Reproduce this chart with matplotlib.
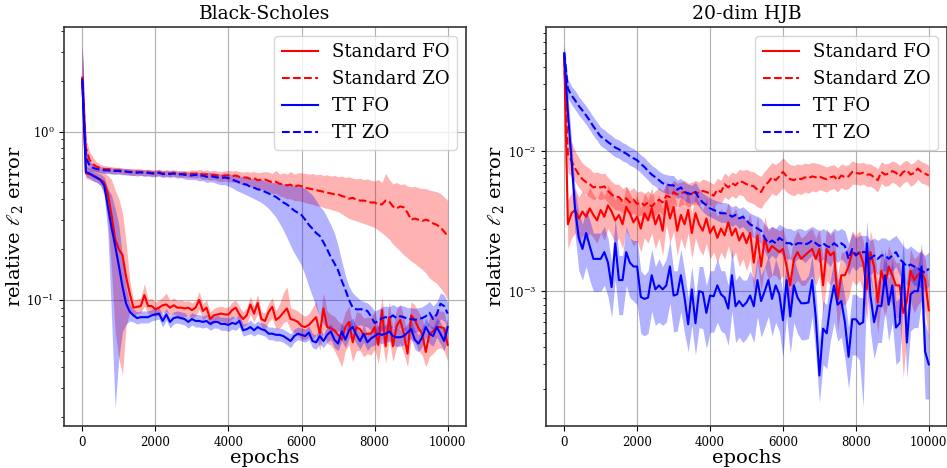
import numpy as np
import matplotlib
matplotlib.use("Agg")
import matplotlib.pyplot as plt

plt.rcParams['font.family'] = ['DejaVu Serif']
plt.rcParams['mathtext.fontset'] = 'dejavuserif'

epochs = np.arange(0, 10001, 100)

# ---------------- Black-Scholes ----------------
bs_std_fo = [2.1, 0.565, 0.56, 0.55, 0.535, 0.52, 0.50, 0.43, 0.32, 0.23,
             0.20, 0.185, 0.137, 0.109, 0.090, 0.091, 0.092, 0.107, 0.092, 0.092,
             0.088, 0.090, 0.093, 0.094, 0.090, 0.093, 0.090, 0.090, 0.089, 0.090,
             0.087, 0.090, 0.100, 0.086, 0.090, 0.077, 0.081, 0.082, 0.083, 0.082,
             0.082, 0.087, 0.090, 0.082, 0.077, 0.081, 0.094, 0.083, 0.096, 0.077,
             0.075, 0.085, 0.091, 0.076, 0.079, 0.084, 0.089, 0.077, 0.076, 0.074,
             0.070, 0.069, 0.071, 0.075, 0.079, 0.063, 0.089, 0.069, 0.068, 0.066,
             0.062, 0.058, 0.069, 0.074, 0.056, 0.069, 0.067, 0.062, 0.063, 0.063,
             0.069, 0.054, 0.087, 0.053, 0.079, 0.053, 0.070, 0.076, 0.063, 0.048,
             0.081, 0.076, 0.068, 0.063, 0.049, 0.063, 0.065, 0.069, 0.069, 0.068, 0.054]
bs_std_fo_lo = [1.4, 0.53, 0.52, 0.51, 0.50, 0.48, 0.44, 0.30, 0.15, 0.065,
                0.045, 0.036, 0.07, 0.085, 0.080, 0.083, 0.084, 0.092, 0.083, 0.083,
                0.080, 0.081, 0.084, 0.085, 0.081, 0.083, 0.080, 0.077, 0.080, 0.081,
                0.078, 0.080, 0.088, 0.076, 0.080, 0.070, 0.073, 0.074, 0.075, 0.073,
                0.073, 0.077, 0.080, 0.073, 0.069, 0.072, 0.082, 0.074, 0.084, 0.069,
                0.067, 0.074, 0.078, 0.067, 0.068, 0.073, 0.075, 0.066, 0.064, 0.062,
                0.058, 0.058, 0.060, 0.058, 0.062, 0.050, 0.066, 0.055, 0.054, 0.050,
                0.045, 0.040, 0.050, 0.054, 0.043, 0.050, 0.050, 0.046, 0.048, 0.047,
                0.051, 0.042, 0.060, 0.042, 0.058, 0.043, 0.052, 0.055, 0.048, 0.040,
                0.058, 0.056, 0.050, 0.047, 0.040, 0.046, 0.048, 0.051, 0.052, 0.050, 0.043]
bs_std_fo_hi = [3.27, 0.63, 0.61, 0.60, 0.59, 0.58, 0.57, 0.55, 0.52, 0.45,
                0.40, 0.33, 0.22, 0.13, 0.10, 0.101, 0.103, 0.125, 0.101, 0.102,
                0.097, 0.100, 0.104, 0.110, 0.099, 0.103, 0.099, 0.100, 0.098, 0.099,
                0.096, 0.099, 0.112, 0.095, 0.100, 0.085, 0.089, 0.091, 0.092, 0.090,
                0.091, 0.097, 0.100, 0.091, 0.085, 0.090, 0.105, 0.092, 0.108, 0.085,
                0.084, 0.096, 0.103, 0.086, 0.095, 0.110, 0.120, 0.090, 0.088, 0.086,
                0.082, 0.080, 0.083, 0.090, 0.098, 0.077, 0.110, 0.086, 0.082, 0.080,
                0.075, 0.072, 0.085, 0.092, 0.070, 0.085, 0.084, 0.078, 0.079, 0.079,
                0.086, 0.069, 0.105, 0.068, 0.098, 0.068, 0.088, 0.094, 0.079, 0.062,
                0.098, 0.093, 0.085, 0.078, 0.063, 0.079, 0.081, 0.086, 0.086, 0.085, 0.068]

bs_std_zo = [2.1, 0.80, 0.68, 0.64, 0.62, 0.61, 0.60, 0.60, 0.595, 0.59,
             0.59, 0.585, 0.58, 0.58, 0.575, 0.58, 0.575, 0.57, 0.575, 0.57,
             0.57, 0.575, 0.565, 0.57, 0.565, 0.57, 0.565, 0.56, 0.565, 0.56,
             0.565, 0.56, 0.57, 0.555, 0.56, 0.55, 0.555, 0.55, 0.545, 0.55,
             0.55, 0.545, 0.55, 0.54, 0.535, 0.535, 0.525, 0.53, 0.515, 0.52,
             0.52, 0.51, 0.50, 0.505, 0.49, 0.49, 0.48, 0.485, 0.47, 0.48,
             0.475, 0.465, 0.46, 0.455, 0.45, 0.445, 0.44, 0.435, 0.43, 0.425,
             0.425, 0.415, 0.41, 0.40, 0.405, 0.395, 0.39, 0.39, 0.385, 0.38,
             0.38, 0.37, 0.37, 0.39, 0.385, 0.36, 0.35, 0.36, 0.355, 0.33,
             0.30, 0.305, 0.30, 0.295, 0.30, 0.295, 0.285, 0.28, 0.27, 0.255, 0.24]
bs_std_zo_lo = [1.4, 0.68, 0.61, 0.59, 0.58, 0.575, 0.57, 0.57, 0.565, 0.56,
                0.565, 0.56, 0.555, 0.555, 0.55, 0.555, 0.55, 0.545, 0.55, 0.545,
                0.545, 0.55, 0.54, 0.545, 0.54, 0.545, 0.54, 0.535, 0.54, 0.535,
                0.535, 0.53, 0.535, 0.52, 0.525, 0.515, 0.52, 0.51, 0.505, 0.51,
                0.505, 0.50, 0.50, 0.49, 0.485, 0.48, 0.47, 0.47, 0.455, 0.455,
                0.45, 0.44, 0.43, 0.43, 0.415, 0.41, 0.40, 0.40, 0.39, 0.39,
                0.385, 0.38, 0.375, 0.37, 0.365, 0.36, 0.355, 0.35, 0.345, 0.34,
                0.335, 0.325, 0.315, 0.305, 0.30, 0.295, 0.29, 0.285, 0.28, 0.275,
                0.27, 0.26, 0.25, 0.24, 0.23, 0.215, 0.205, 0.195, 0.185, 0.178,
                0.17, 0.165, 0.158, 0.152, 0.145, 0.135, 0.13, 0.125, 0.118, 0.11, 0.10]
bs_std_zo_hi = [3.27, 0.92, 0.76, 0.70, 0.66, 0.64, 0.63, 0.625, 0.62, 0.615,
                0.615, 0.61, 0.605, 0.605, 0.60, 0.605, 0.60, 0.595, 0.60, 0.595,
                0.595, 0.60, 0.59, 0.595, 0.59, 0.595, 0.59, 0.585, 0.59, 0.585,
                0.595, 0.59, 0.60, 0.59, 0.595, 0.585, 0.59, 0.585, 0.58, 0.585,
                0.59, 0.585, 0.59, 0.58, 0.575, 0.58, 0.575, 0.58, 0.57, 0.575,
                0.58, 0.575, 0.565, 0.59, 0.56, 0.57, 0.56, 0.58, 0.56, 0.57,
                0.57, 0.565, 0.56, 0.565, 0.555, 0.56, 0.55, 0.555, 0.545, 0.55,
                0.54, 0.545, 0.535, 0.54, 0.53, 0.525, 0.53, 0.52, 0.525, 0.515,
                0.51, 0.52, 0.50, 0.565, 0.52, 0.49, 0.50, 0.485, 0.49, 0.475,
                0.47, 0.475, 0.465, 0.46, 0.46, 0.45, 0.445, 0.44, 0.43, 0.41, 0.39]

bs_tt_fo = [2.04, 0.577, 0.565, 0.547, 0.532, 0.516, 0.48, 0.36, 0.27, 0.21,
            0.16, 0.12, 0.095, 0.085, 0.081, 0.078, 0.079, 0.079, 0.079, 0.081,
            0.082, 0.083, 0.075, 0.082, 0.074, 0.078, 0.079, 0.078, 0.077, 0.074,
            0.077, 0.075, 0.075, 0.074, 0.075, 0.072, 0.074, 0.074, 0.072, 0.072,
            0.071, 0.073, 0.072, 0.075, 0.066, 0.067, 0.069, 0.066, 0.069, 0.067,
            0.066, 0.063, 0.063, 0.062, 0.062, 0.061, 0.059, 0.057, 0.061, 0.063,
            0.062, 0.061, 0.064, 0.057, 0.056, 0.061, 0.057, 0.062, 0.065, 0.058,
            0.055, 0.065, 0.058, 0.066, 0.069, 0.062, 0.057, 0.063, 0.056, 0.059,
            0.061, 0.063, 0.062, 0.063, 0.065, 0.061, 0.060, 0.060, 0.061, 0.064,
            0.067, 0.058, 0.055, 0.060, 0.069, 0.063, 0.061, 0.069, 0.063, 0.057, 0.069]
bs_tt_fo_lo = [1.3, 0.54, 0.53, 0.51, 0.50, 0.48, 0.42, 0.25, 0.08, 0.0228,
               0.045, 0.065, 0.072, 0.075, 0.074, 0.072, 0.073, 0.073, 0.073, 0.075,
               0.076, 0.077, 0.069, 0.076, 0.068, 0.072, 0.073, 0.072, 0.071, 0.068,
               0.071, 0.069, 0.069, 0.068, 0.069, 0.066, 0.068, 0.068, 0.066, 0.066,
               0.065, 0.067, 0.066, 0.069, 0.061, 0.062, 0.063, 0.061, 0.063, 0.062,
               0.061, 0.058, 0.058, 0.057, 0.057, 0.056, 0.054, 0.052, 0.056, 0.058,
               0.057, 0.056, 0.058, 0.052, 0.051, 0.055, 0.052, 0.056, 0.058, 0.052,
               0.050, 0.057, 0.052, 0.059, 0.061, 0.055, 0.051, 0.056, 0.050, 0.053,
               0.054, 0.056, 0.055, 0.056, 0.057, 0.054, 0.053, 0.053, 0.054, 0.057,
               0.059, 0.051, 0.049, 0.053, 0.060, 0.055, 0.053, 0.060, 0.055, 0.050, 0.060]
bs_tt_fo_hi = [3.27, 0.62, 0.60, 0.58, 0.57, 0.56, 0.54, 0.46, 0.42, 0.35,
               0.28, 0.18, 0.12, 0.095, 0.088, 0.085, 0.086, 0.086, 0.086, 0.088,
               0.089, 0.090, 0.082, 0.089, 0.080, 0.085, 0.086, 0.085, 0.084, 0.080,
               0.084, 0.082, 0.082, 0.080, 0.082, 0.079, 0.080, 0.081, 0.079, 0.079,
               0.078, 0.080, 0.079, 0.082, 0.072, 0.073, 0.076, 0.072, 0.075, 0.073,
               0.072, 0.069, 0.069, 0.068, 0.068, 0.067, 0.065, 0.063, 0.067, 0.069,
               0.068, 0.067, 0.070, 0.063, 0.062, 0.068, 0.063, 0.069, 0.072, 0.065,
               0.061, 0.073, 0.065, 0.074, 0.078, 0.069, 0.064, 0.071, 0.063, 0.066,
               0.068, 0.071, 0.070, 0.071, 0.073, 0.068, 0.067, 0.067, 0.068, 0.072,
               0.076, 0.066, 0.062, 0.068, 0.078, 0.071, 0.069, 0.078, 0.074, 0.066, 0.078]

bs_tt_zo = [2.0, 0.70, 0.63, 0.61, 0.60, 0.595, 0.59, 0.59, 0.585, 0.585,
            0.585, 0.58, 0.58, 0.575, 0.575, 0.57, 0.575, 0.57, 0.57, 0.565,
            0.565, 0.57, 0.56, 0.565, 0.56, 0.565, 0.555, 0.56, 0.555, 0.55,
            0.55, 0.555, 0.545, 0.55, 0.54, 0.545, 0.54, 0.535, 0.53, 0.535,
            0.53, 0.52, 0.51, 0.50, 0.49, 0.485, 0.47, 0.465, 0.455, 0.45,
            0.44, 0.43, 0.42, 0.41, 0.395, 0.38, 0.37, 0.355, 0.34, 0.33,
            0.32, 0.30, 0.28, 0.265, 0.25, 0.24, 0.22, 0.20, 0.18, 0.165,
            0.15, 0.13, 0.115, 0.10, 0.09, 0.088, 0.088, 0.088, 0.086, 0.08,
            0.073, 0.075, 0.078, 0.079, 0.078, 0.081, 0.078, 0.080, 0.079, 0.077,
            0.077, 0.076, 0.077, 0.078, 0.080, 0.084, 0.077, 0.082, 0.095, 0.092, 0.083]
bs_tt_zo_lo = [1.3, 0.62, 0.59, 0.58, 0.575, 0.57, 0.565, 0.565, 0.56, 0.56,
               0.56, 0.555, 0.555, 0.55, 0.55, 0.545, 0.55, 0.545, 0.545, 0.54,
               0.54, 0.545, 0.535, 0.54, 0.535, 0.54, 0.53, 0.535, 0.525, 0.52,
               0.52, 0.52, 0.51, 0.515, 0.50, 0.505, 0.50, 0.49, 0.485, 0.485,
               0.475, 0.465, 0.45, 0.44, 0.43, 0.42, 0.41, 0.40, 0.39, 0.38,
               0.365, 0.35, 0.33, 0.31, 0.285, 0.26, 0.235, 0.21, 0.19, 0.175,
               0.16, 0.14, 0.12, 0.105, 0.09, 0.079, 0.072, 0.068, 0.066, 0.065,
               0.065, 0.066, 0.066, 0.067, 0.068, 0.070, 0.071, 0.070, 0.069, 0.066,
               0.062, 0.064, 0.066, 0.067, 0.066, 0.069, 0.066, 0.068, 0.067, 0.065,
               0.065, 0.064, 0.065, 0.066, 0.068, 0.071, 0.065, 0.069, 0.077, 0.075, 0.070]
bs_tt_zo_hi = [3.27, 0.80, 0.67, 0.64, 0.625, 0.62, 0.615, 0.615, 0.61, 0.61,
               0.61, 0.605, 0.605, 0.60, 0.60, 0.595, 0.60, 0.595, 0.595, 0.59,
               0.59, 0.595, 0.585, 0.59, 0.585, 0.59, 0.58, 0.585, 0.58, 0.575,
               0.575, 0.585, 0.57, 0.58, 0.57, 0.575, 0.57, 0.565, 0.56, 0.57,
               0.565, 0.555, 0.55, 0.545, 0.54, 0.54, 0.53, 0.525, 0.52, 0.52,
               0.51, 0.505, 0.50, 0.50, 0.495, 0.49, 0.49, 0.485, 0.48, 0.475,
               0.47, 0.46, 0.44, 0.42, 0.39, 0.36, 0.34, 0.31, 0.28, 0.25,
               0.21, 0.17, 0.14, 0.12, 0.11, 0.105, 0.10, 0.098, 0.096, 0.092,
               0.086, 0.088, 0.091, 0.092, 0.091, 0.094, 0.091, 0.093, 0.092, 0.090,
               0.090, 0.089, 0.090, 0.091, 0.094, 0.098, 0.092, 0.097, 0.110, 0.107, 0.097]

# ---------------- 20-dim HJB ----------------
hjb_std_fo = [0.048, 0.0030, 0.0036, 0.0038, 0.0033, 0.0037, 0.0034, 0.0039, 0.0035, 0.0032,
              0.0038, 0.0034, 0.0041, 0.0037, 0.0032, 0.0035, 0.0030, 0.0040, 0.0036, 0.0031,
              0.0034, 0.0028, 0.0036, 0.0032, 0.0039, 0.0030, 0.0035, 0.0027, 0.0044, 0.0033,
              0.0040, 0.0027, 0.0035, 0.0030, 0.0038, 0.0026, 0.0036, 0.0030, 0.0027, 0.0033,
              0.0026, 0.0029, 0.0024, 0.0028, 0.0025, 0.0031, 0.0025, 0.0028, 0.0023, 0.0026,
              0.0022, 0.0026, 0.0016, 0.0025, 0.0015, 0.0024, 0.0019, 0.0021, 0.0020, 0.0019,
              0.0020, 0.0015, 0.0011, 0.0017, 0.0019, 0.0017, 0.0018, 0.0019, 0.0020, 0.0017,
              0.0020, 0.0011, 0.0020, 0.0018, 0.0019, 0.00086, 0.0013, 0.0013, 0.0015, 0.0019,
              0.0018, 0.0019, 0.0016, 0.00103, 0.0019, 0.0015, 0.00083, 0.0014, 0.0011, 0.0015,
              0.0013, 0.0011, 0.0011, 0.0007, 0.00085, 0.0014, 0.0012, 0.0013, 0.0014, 0.0012, 0.00073]
hjb_std_fo_lo = [0.040, 0.0020, 0.0024, 0.0026, 0.0022, 0.0025, 0.0023, 0.0026, 0.0024, 0.0022,
                 0.0026, 0.0023, 0.0028, 0.0025, 0.0022, 0.0024, 0.0020, 0.0027, 0.0024, 0.0021,
                 0.0023, 0.0019, 0.0024, 0.0022, 0.0026, 0.0020, 0.0024, 0.0018, 0.0030, 0.0022,
                 0.0027, 0.0018, 0.0024, 0.0020, 0.0026, 0.0017, 0.0024, 0.0020, 0.0018, 0.0022,
                 0.0017, 0.0019, 0.0016, 0.0019, 0.0017, 0.0021, 0.0017, 0.0019, 0.0015, 0.0017,
                 0.0014, 0.0017, 0.0010, 0.0016, 0.0010, 0.0015, 0.0012, 0.0013, 0.0013, 0.0012,
                 0.0013, 0.00095, 0.0007, 0.0011, 0.0012, 0.0011, 0.0011, 0.0012, 0.0013, 0.0011,
                 0.0013, 0.0007, 0.0012, 0.0011, 0.0012, 0.00052, 0.0008, 0.0008, 0.0009, 0.0012,
                 0.0011, 0.0012, 0.0010, 0.00062, 0.0012, 0.0009, 0.0005, 0.00085, 0.00065, 0.0009,
                 0.0008, 0.00065, 0.00065, 0.00024, 0.0005, 0.00085, 0.0007, 0.0008, 0.00085, 0.0007, 0.00045]
hjb_std_fo_hi = [0.057, 0.0045, 0.0050, 0.0054, 0.0047, 0.0052, 0.0048, 0.0055, 0.0049, 0.0045,
                 0.0053, 0.0048, 0.0057, 0.0052, 0.0045, 0.0049, 0.0042, 0.0056, 0.0050, 0.0044,
                 0.0048, 0.0039, 0.0050, 0.0045, 0.0055, 0.0042, 0.0049, 0.0038, 0.0062, 0.0046,
                 0.0056, 0.0038, 0.0049, 0.0042, 0.0053, 0.0036, 0.0050, 0.0042, 0.0038, 0.0046,
                 0.0036, 0.0041, 0.0034, 0.0039, 0.0035, 0.0043, 0.0035, 0.0039, 0.0032, 0.0036,
                 0.0031, 0.0036, 0.0023, 0.0035, 0.0022, 0.0034, 0.0027, 0.0029, 0.0028, 0.0027,
                 0.0028, 0.0022, 0.0017, 0.0024, 0.0027, 0.0024, 0.0025, 0.0027, 0.0028, 0.0024,
                 0.0028, 0.0017, 0.0028, 0.0025, 0.0027, 0.0013, 0.0019, 0.0019, 0.0021, 0.0027,
                 0.0025, 0.0027, 0.0023, 0.0015, 0.0027, 0.0021, 0.0012, 0.0020, 0.0016, 0.0021,
                 0.0018, 0.0016, 0.0016, 0.0010, 0.0012, 0.0020, 0.0017, 0.0018, 0.0020, 0.0017, 0.0011]

hjb_std_zo = [0.045, 0.0095, 0.0085, 0.0075, 0.0068, 0.0063, 0.0060, 0.0058, 0.0055, 0.0056,
              0.0055, 0.0056, 0.0052, 0.0049, 0.0047, 0.0047, 0.0044, 0.0046, 0.0043, 0.0045,
              0.0042, 0.0043, 0.0041, 0.0043, 0.0040, 0.0043, 0.0045, 0.0043, 0.0048, 0.0047,
              0.0051, 0.0049, 0.0050, 0.0051, 0.0049, 0.0050, 0.0051, 0.0050, 0.0052, 0.0051,
              0.0050, 0.0048, 0.0053, 0.0051, 0.0058, 0.0055, 0.0059, 0.0057, 0.0061, 0.0060,
              0.0058, 0.0057, 0.0056, 0.0053, 0.0051, 0.0057, 0.0060, 0.0065, 0.0062, 0.0066,
              0.0071, 0.0066, 0.0063, 0.0062, 0.0064, 0.0063, 0.0065, 0.0064, 0.0066, 0.0065,
              0.0066, 0.0064, 0.0063, 0.0065, 0.0066, 0.0062, 0.0067, 0.0065, 0.0066, 0.0071,
              0.0070, 0.0069, 0.0070, 0.0068, 0.0068, 0.0065, 0.0062, 0.0071, 0.0068, 0.0069,
              0.0072, 0.0070, 0.0066, 0.0071, 0.0073, 0.0068, 0.0070, 0.0075, 0.0071, 0.0069, 0.0067]
hjb_std_zo_lo = [0.038, 0.0070, 0.0066, 0.0060, 0.0055, 0.0051, 0.0049, 0.0047, 0.0045, 0.0046,
                 0.0045, 0.0046, 0.0043, 0.0040, 0.0038, 0.0038, 0.0036, 0.0037, 0.0035, 0.0036,
                 0.0034, 0.0035, 0.0033, 0.0035, 0.0033, 0.0035, 0.0037, 0.0035, 0.0039, 0.0038,
                 0.0042, 0.0040, 0.0041, 0.0042, 0.0040, 0.0041, 0.0042, 0.0041, 0.0043, 0.0042,
                 0.0041, 0.0039, 0.0043, 0.0042, 0.0047, 0.0045, 0.0048, 0.0046, 0.0049, 0.0048,
                 0.0044, 0.0043, 0.0042, 0.0040, 0.0039, 0.0043, 0.0046, 0.0050, 0.0048, 0.0051,
                 0.0055, 0.0051, 0.0049, 0.0048, 0.0050, 0.0049, 0.0051, 0.0050, 0.0052, 0.0051,
                 0.0053, 0.0052, 0.0051, 0.0053, 0.0054, 0.0051, 0.0055, 0.0053, 0.0054, 0.0058,
                 0.0058, 0.0057, 0.0058, 0.0056, 0.0056, 0.0054, 0.0051, 0.0059, 0.0056, 0.0057,
                 0.0060, 0.0058, 0.0055, 0.0059, 0.0061, 0.0056, 0.0058, 0.0063, 0.0059, 0.0058, 0.0056]
hjb_std_zo_hi = [0.055, 0.0125, 0.0115, 0.0100, 0.0090, 0.0082, 0.0078, 0.0075, 0.0070, 0.0071,
                 0.0069, 0.0070, 0.0065, 0.0061, 0.0058, 0.0058, 0.0054, 0.0056, 0.0052, 0.0055,
                 0.0051, 0.0052, 0.0050, 0.0052, 0.0049, 0.0052, 0.0055, 0.0052, 0.0058, 0.0057,
                 0.0062, 0.0059, 0.0060, 0.0062, 0.0059, 0.0060, 0.0062, 0.0060, 0.0063, 0.0062,
                 0.0060, 0.0058, 0.0064, 0.0062, 0.0070, 0.0066, 0.0071, 0.0069, 0.0074, 0.0073,
                 0.0074, 0.0072, 0.0071, 0.0068, 0.0066, 0.0072, 0.0077, 0.0083, 0.0080, 0.0084,
                 0.0090, 0.0084, 0.0080, 0.0079, 0.0081, 0.0080, 0.0082, 0.0081, 0.0083, 0.0082,
                 0.0081, 0.0079, 0.0077, 0.0079, 0.0080, 0.0076, 0.0081, 0.0079, 0.0080, 0.0085,
                 0.0083, 0.0082, 0.0083, 0.0081, 0.0081, 0.0078, 0.0075, 0.0084, 0.0081, 0.0082,
                 0.0085, 0.0083, 0.0079, 0.0084, 0.0086, 0.0081, 0.0083, 0.0088, 0.0084, 0.0082, 0.0079]

hjb_tt_fo = [0.050, 0.019, 0.0086, 0.0038, 0.0024, 0.0020, 0.0026, 0.0021, 0.0017, 0.0017,
             0.0017, 0.0019, 0.0016, 0.00107, 0.0022, 0.0012, 0.0012, 0.0019, 0.0016, 0.0015,
             0.0015, 0.00091, 0.00088, 0.0009, 0.0013, 0.00103, 0.0011, 0.00103, 0.0011, 0.0015,
             0.00093, 0.00095, 0.0013, 0.0009, 0.00058, 0.00103, 0.00059, 0.0010, 0.00098, 0.0007,
             0.00093, 0.00092, 0.0011, 0.00095, 0.0009, 0.00075, 0.0013, 0.00078, 0.00085, 0.00078,
             0.00083, 0.00093, 0.00078, 0.0012, 0.00085, 0.0010, 0.0012, 0.00088, 0.0011, 0.00095,
             0.00062, 0.0012, 0.00066, 0.0011, 0.0009, 0.00082, 0.00082, 0.00083, 0.0012, 0.00065,
             0.00025, 0.00054, 0.0005, 0.0008, 0.0011, 0.0008, 0.00085, 0.0006, 0.00034, 0.00063,
             0.00063, 0.00058, 0.0006, 0.0022, 0.00093, 0.0006, 0.00079, 0.00078, 0.0013, 0.0008,
             0.0011, 0.00055, 0.00059, 0.0016, 0.00043, 0.00095, 0.0010, 0.0010, 0.0015, 0.00037, 0.0003]
hjb_tt_fo_lo = [0.042, 0.014, 0.0060, 0.0025, 0.0014, 0.0012, 0.0015, 0.0012, 0.0010, 0.0010,
                0.0010, 0.0011, 0.00092, 0.00065, 0.0012, 0.00068, 0.00068, 0.0011, 0.00090, 0.00085,
                0.00080, 0.00050, 0.00048, 0.00050, 0.00072, 0.00057, 0.00060, 0.00057, 0.00060, 0.00082,
                0.00051, 0.00052, 0.00072, 0.00050, 0.00037, 0.00057, 0.00035, 0.00055, 0.00054, 0.00039,
                0.00051, 0.00051, 0.00060, 0.00052, 0.00050, 0.00041, 0.00072, 0.00043, 0.00047, 0.00043,
                0.00046, 0.00051, 0.00043, 0.00066, 0.00047, 0.00055, 0.00066, 0.00048, 0.00060, 0.00052,
                0.00034, 0.00066, 0.00036, 0.00060, 0.00050, 0.00045, 0.00045, 0.00046, 0.00066, 0.00036,
                0.00016, 0.00030, 0.00028, 0.00044, 0.00060, 0.00044, 0.00047, 0.00033, 0.00020, 0.00035,
                0.00035, 0.00032, 0.00015, 0.00120, 0.00051, 0.00033, 0.00043, 0.00043, 0.00072, 0.00044,
                0.00060, 0.00030, 0.00032, 0.00088, 0.00024, 0.00052, 0.00055, 0.00055, 0.00082, 0.00017, 0.00017]
hjb_tt_fo_hi = [0.057, 0.026, 0.012, 0.0052, 0.0036, 0.0030, 0.0039, 0.0032, 0.0026, 0.0026,
                0.0026, 0.0029, 0.0024, 0.0016, 0.0033, 0.0018, 0.0018, 0.0029, 0.0024, 0.0023,
                0.0023, 0.0014, 0.0013, 0.0014, 0.0020, 0.0015, 0.0017, 0.0015, 0.0017, 0.0023,
                0.0014, 0.0014, 0.0020, 0.0014, 0.00090, 0.0015, 0.00090, 0.0015, 0.0015, 0.0011,
                0.0014, 0.0014, 0.0017, 0.0014, 0.0014, 0.0011, 0.0020, 0.0012, 0.0013, 0.0012,
                0.0012, 0.0014, 0.0012, 0.0018, 0.0013, 0.0015, 0.0018, 0.0013, 0.0017, 0.0014,
                0.00095, 0.0018, 0.0010, 0.0017, 0.0014, 0.0012, 0.0012, 0.0013, 0.0018, 0.0010,
                0.00045, 0.00085, 0.00080, 0.0012, 0.0017, 0.0012, 0.0013, 0.0009, 0.00055, 0.00095,
                0.00095, 0.0009, 0.0009, 0.0032, 0.0014, 0.0009, 0.0012, 0.0012, 0.0020, 0.0012,
                0.0017, 0.00085, 0.0009, 0.0024, 0.00065, 0.0014, 0.0015, 0.0015, 0.0022, 0.00060, 0.00048]

hjb_tt_zo = [0.050, 0.028, 0.025, 0.023, 0.021, 0.0195, 0.018, 0.0165, 0.015, 0.0138,
             0.0127, 0.0122, 0.0116, 0.0111, 0.0106, 0.0103, 0.0099, 0.0096, 0.0092, 0.0089,
             0.0086, 0.0081, 0.0077, 0.0072, 0.0068, 0.0065, 0.0062, 0.0059, 0.0058, 0.0057,
             0.0057, 0.0053, 0.0055, 0.0051, 0.0050, 0.0049, 0.0051, 0.0046, 0.0043, 0.0041,
             0.0039, 0.0038, 0.0037, 0.0036, 0.0036, 0.00355, 0.0034, 0.0035, 0.0033, 0.0034,
             0.0032, 0.0030, 0.0029, 0.0028, 0.0027, 0.0024, 0.0022, 0.0023, 0.0022, 0.0024,
             0.0023, 0.0022, 0.0022, 0.0021, 0.0022, 0.0022, 0.00215, 0.0022, 0.0023, 0.0022,
             0.0021, 0.0022, 0.0021, 0.00205, 0.0022, 0.0021, 0.0022, 0.0021, 0.0017, 0.0020,
             0.0018, 0.0019, 0.0019, 0.0019, 0.0017, 0.0018, 0.0017, 0.0018, 0.0018, 0.0017,
             0.0018, 0.0019, 0.0017, 0.0016, 0.0015, 0.00155, 0.0015, 0.00145, 0.0014, 0.00135, 0.00145]
hjb_tt_zo_lo = [0.043, 0.024, 0.0215, 0.0198, 0.018, 0.0168, 0.0155, 0.0142, 0.0129, 0.0119,
                0.0109, 0.0105, 0.0100, 0.0095, 0.0091, 0.0089, 0.0085, 0.0083, 0.0079, 0.0077,
                0.0074, 0.0070, 0.0066, 0.0062, 0.0058, 0.0056, 0.0053, 0.0051, 0.0050, 0.0049,
                0.0049, 0.0046, 0.0047, 0.0044, 0.0043, 0.0042, 0.0044, 0.0040, 0.0037, 0.0035,
                0.0034, 0.0033, 0.0032, 0.0031, 0.0031, 0.0030, 0.0029, 0.0030, 0.0028, 0.0029,
                0.0027, 0.0025, 0.0024, 0.0023, 0.0022, 0.0019, 0.0017, 0.0018, 0.0017, 0.0019,
                0.0018, 0.0017, 0.0017, 0.0016, 0.0017, 0.0017, 0.0016, 0.0017, 0.0018, 0.0017,
                0.0016, 0.0017, 0.0016, 0.0015, 0.0017, 0.0016, 0.0017, 0.0016, 0.0013, 0.0015,
                0.0014, 0.0015, 0.0015, 0.0015, 0.0013, 0.0014, 0.0013, 0.0014, 0.0014, 0.0013,
                0.0014, 0.0015, 0.0013, 0.0012, 0.0011, 0.0012, 0.0011, 0.0011, 0.00105, 0.0010, 0.0011]
hjb_tt_zo_hi = [0.057, 0.033, 0.029, 0.027, 0.0245, 0.0227, 0.021, 0.0192, 0.0175, 0.0161,
                0.0148, 0.0142, 0.0135, 0.0129, 0.0123, 0.0120, 0.0115, 0.0112, 0.0107, 0.0104,
                0.0100, 0.0094, 0.0090, 0.0084, 0.0079, 0.0076, 0.0072, 0.0069, 0.0068, 0.0067,
                0.0067, 0.0062, 0.0064, 0.0060, 0.0058, 0.0057, 0.0060, 0.0054, 0.0050, 0.0048,
                0.0046, 0.0045, 0.0044, 0.0043, 0.0043, 0.0042, 0.0040, 0.0041, 0.0039, 0.0040,
                0.0038, 0.0036, 0.0035, 0.0034, 0.0033, 0.0030, 0.0028, 0.0029, 0.0028, 0.0030,
                0.0029, 0.0028, 0.0028, 0.0027, 0.0028, 0.0028, 0.0027, 0.0028, 0.0029, 0.0028,
                0.0027, 0.0028, 0.0027, 0.0026, 0.0028, 0.0027, 0.0028, 0.0027, 0.0022, 0.0026,
                0.0024, 0.0025, 0.0025, 0.0025, 0.0023, 0.0024, 0.0023, 0.0024, 0.0024, 0.0023,
                0.0024, 0.0025, 0.0023, 0.0021, 0.0020, 0.0021, 0.0020, 0.0019, 0.0019, 0.0018, 0.0019]

labels = ["Standard FO", "Standard ZO", "TT FO", "TT ZO"]
colors = ["red", "red", "blue", "blue"]
styles = ["-", "--", "-", "--"]

panels = [
    ("Black-Scholes", (0.0178, 4.2),
     [(bs_std_fo, bs_std_fo_lo, bs_std_fo_hi),
      (bs_std_zo, bs_std_zo_lo, bs_std_zo_hi),
      (bs_tt_fo, bs_tt_fo_lo, bs_tt_fo_hi),
      (bs_tt_zo, bs_tt_zo_lo, bs_tt_zo_hi)]),
    ("20-dim HJB", (1.09e-4, 0.0769),
     [(hjb_std_fo, hjb_std_fo_lo, hjb_std_fo_hi),
      (hjb_std_zo, hjb_std_zo_lo, hjb_std_zo_hi),
      (hjb_tt_fo, hjb_tt_fo_lo, hjb_tt_fo_hi),
      (hjb_tt_zo, hjb_tt_zo_lo, hjb_tt_zo_hi)]),
]

fig = plt.figure(figsize=(9.47, 4.68), dpi=100)
rects = [[64/947, 42/468, 402/947, 399/468],
         [546/947, 42/468, 401/947, 399/468]]

for rect, (title, ylim, series) in zip(rects, panels):
    ax = fig.add_axes(rect)
    for (m, lo, hi), lab, c, ls in zip(series, labels, colors, styles):
        ax.fill_between(epochs, lo, hi, color=c, alpha=0.3, linewidth=0)
        ax.plot(epochs, m, color=c, linestyle=ls, linewidth=1.5, label=lab)
    ax.set_yscale('log')
    ax.set_xlim(-500, 10500)
    ax.set_ylim(*ylim)
    ax.set_xticks([0, 2000, 4000, 6000, 8000, 10000])
    ax.grid(True, which='major', color='#b0b0b0', linewidth=0.8)
    ax.set_axisbelow(True)
    ax.tick_params(labelsize=8.5)
    for sp in ax.spines.values():
        sp.set_color('#333333')
        sp.set_linewidth(1.2)
    ax.set_title(title, fontsize=13.5)
    ax.set_xlabel("epochs", fontsize=14, labelpad=0)
    ax.set_ylabel(r"relative $\ell_2$ error", fontsize=14, labelpad=1)
    ax.legend(loc='upper right', fontsize=13)

fig.savefig("out.png", dpi=100)
